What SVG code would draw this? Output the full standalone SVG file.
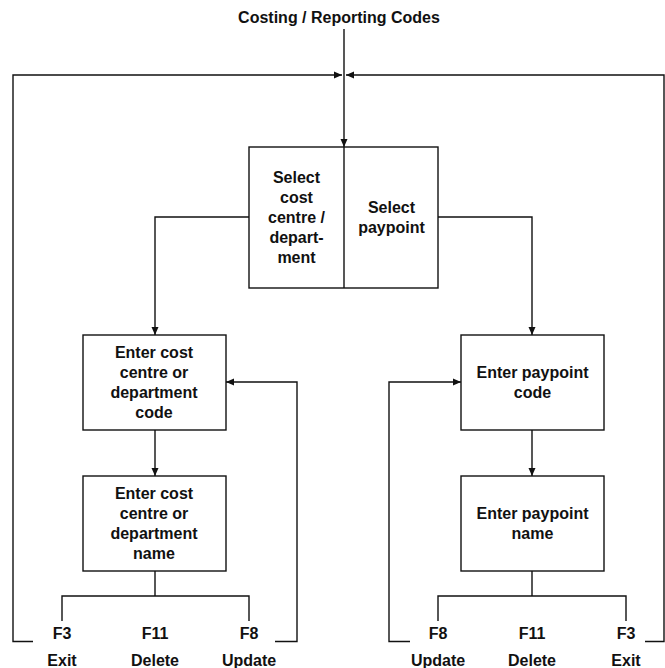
<svg xmlns="http://www.w3.org/2000/svg" width="665" height="668" viewBox="0 0 665 668">
<style>
text{font-family:"Liberation Sans",Arial,sans-serif;font-weight:bold;font-size:16px;fill:#111;text-anchor:middle}
.box{fill:#fff;stroke:#111;stroke-width:1.4}
.c{fill:none;stroke:#111;stroke-width:1.4}
</style>
<defs>
<marker id="ah" markerWidth="9" markerHeight="8" refX="8" refY="4" orient="auto" markerUnits="userSpaceOnUse">
<path d="M0,0.5 L8,4 L0,7.5 Z" fill="#111"/>
</marker>
</defs>
<rect width="665" height="668" fill="#fff"/>
<g id="title"><text x="339" y="23">Costing / Reporting Codes</text></g>
<g id="connectors">
<path class="c" d="M344 29 V147" marker-end="url(#ah)"/>
<path class="c" d="M33 641.5 H13 V75 H342" marker-end="url(#ah)"/>
<path class="c" d="M645 641.5 H664 V75 H346" marker-end="url(#ah)"/>
<path class="c" d="M249 217 H155 V335" marker-end="url(#ah)"/>
<path class="c" d="M438 217 H532 V335" marker-end="url(#ah)"/>
<path class="c" d="M155 430 V476" marker-end="url(#ah)"/>
<path class="c" d="M532 430 V476" marker-end="url(#ah)"/>
<path class="c" d="M155 571 V596 M62 621 V596 H249 V621"/>
<path class="c" d="M532 571 V596 M438 621 V596 H626 V621"/>
<path class="c" d="M275 641.5 H297 V382 H226" marker-end="url(#ah)"/>
<path class="c" d="M410 641.5 H389 V382 H461" marker-end="url(#ah)"/>
</g>
<g id="select">
<rect class="box" x="249" y="147" width="189" height="141"/>
<line class="c" x1="344" y1="147" x2="344" y2="288"/>
<text x="296.5" y="182.5">Select</text>
<text x="296.5" y="202.5">cost</text>
<text x="296.5" y="222.5">centre /</text>
<text x="296.5" y="242.5">depart-</text>
<text x="296.5" y="262.5">ment</text>
<text x="391.5" y="213">Select</text>
<text x="391.5" y="233">paypoint</text>
</g>
<g id="cc-code">
<rect class="box" x="83" y="335" width="143" height="95"/>
<text x="154" y="357.5">Enter cost</text>
<text x="154" y="377.5">centre or</text>
<text x="154" y="397.5">department</text>
<text x="154" y="417.5">code</text>
</g>
<g id="cc-name">
<rect class="box" x="83" y="476" width="143" height="95"/>
<text x="154" y="498.5">Enter cost</text>
<text x="154" y="518.5">centre or</text>
<text x="154" y="538.5">department</text>
<text x="154" y="558.5">name</text>
</g>
<g id="pp-code">
<rect class="box" x="461" y="335" width="143" height="95"/>
<text x="532.5" y="377.5">Enter paypoint</text>
<text x="532.5" y="397.5">code</text>
</g>
<g id="pp-name">
<rect class="box" x="461" y="476" width="143" height="95"/>
<text x="532.5" y="518.5">Enter paypoint</text>
<text x="532.5" y="538.5">name</text>
</g>
<g id="keys-left">
<text x="62" y="639">F3</text><text x="62" y="666">Exit</text>
<text x="155" y="639">F11</text><text x="155" y="666">Delete</text>
<text x="249" y="639">F8</text><text x="249" y="666">Update</text>
</g>
<g id="keys-right">
<text x="438" y="639">F8</text><text x="438" y="666">Update</text>
<text x="532" y="639">F11</text><text x="532" y="666">Delete</text>
<text x="626" y="639">F3</text><text x="626" y="666">Exit</text>
</g>
</svg>
